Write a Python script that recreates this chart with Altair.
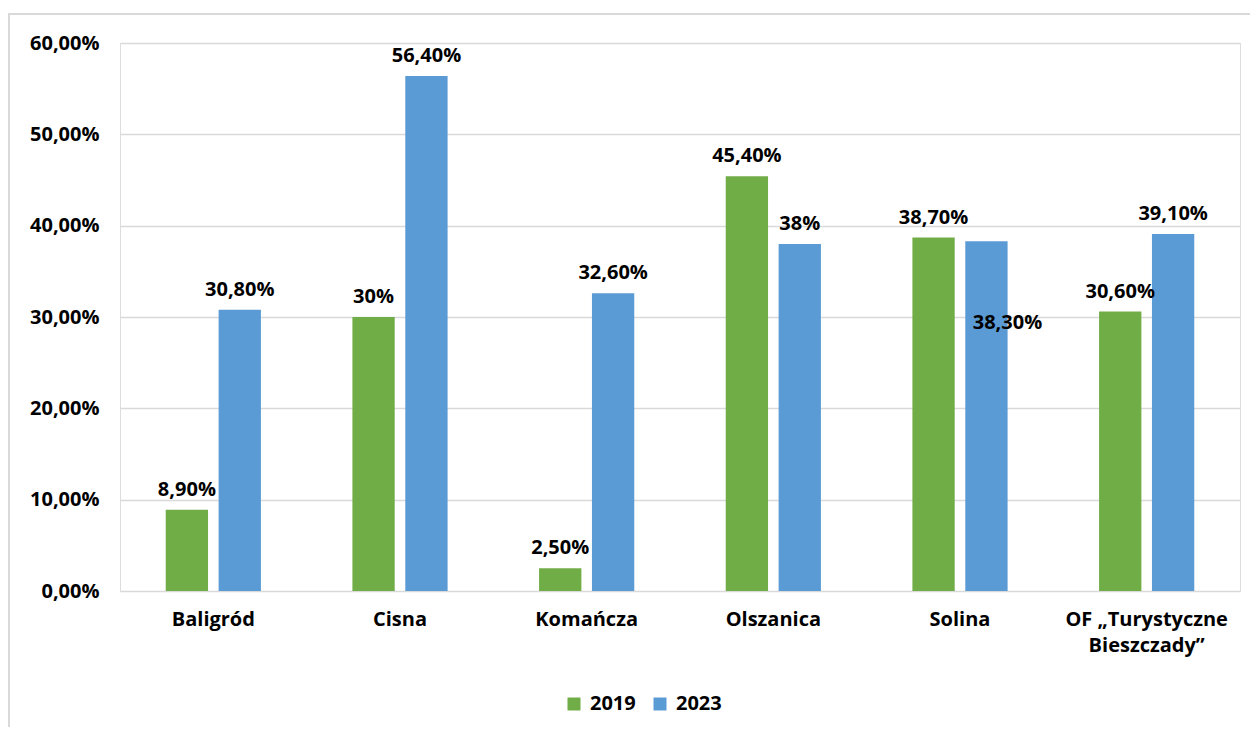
import altair as alt
import pandas as pd

categories = ["Baligród", "Cisna", "Komańcza", "Olszanica", "Solina", "OF „Turystyczne Bieszczady”"]
series = ["2019", "2023"]
values_2019 = [8.9, 30.0, 2.5, 45.4, 38.7, 30.6]
values_2023 = [30.8, 56.4, 32.6, 38.0, 38.3, 39.1]
y_ticks = [0, 10, 20, 30, 40, 50, 60]
colors = ["#70AD47", "#5B9BD5"]

FONT = "Open Sans"
FS = 20


def fmt(v):
    if float(v).is_integer():
        return f"{int(v)}%"
    return f"{v:.2f}".replace(".", ",") + "%"


rows = []
for s, vals in zip(series, [values_2019, values_2023]):
    for c, v in zip(categories, vals):
        rows.append({"kategoria": c, "rok": s, "wartosc": v, "etykieta": fmt(v)})
df = pd.DataFrame(rows)

x_enc = alt.X(
    "kategoria:N",
    sort=categories,
    scale=alt.Scale(paddingInner=0.49, paddingOuter=0.245),
    axis=alt.Axis(
        title=None,
        labelAngle=0,
        labelFont=FONT,
        labelFontSize=FS,
        labelFontWeight="bold",
        labelColor="#000000",
        labelPadding=18,
        labelBaseline="top",
        labelLineHeight=26,
        labelExpr="datum.label == 'OF „Turystyczne Bieszczady”' ? ['OF „Turystyczne', 'Bieszczady”'] : datum.label",
        ticks=False,
        domain=False,
        grid=False,
    ),
)
xoff = alt.XOffset("rok:N", sort=series, scale=alt.Scale(paddingInner=0.2, paddingOuter=0))
y_enc = alt.Y(
    "wartosc:Q",
    scale=alt.Scale(domain=[0, 60], nice=False),
    axis=alt.Axis(
        title=None,
        values=y_ticks,
        labelExpr="replace(format(datum.value, '.2f'), '.', ',') + '%'",
        labelFont=FONT,
        labelFontSize=FS,
        labelFontWeight="bold",
        labelColor="#000000",
        labelPadding=21,
        ticks=False,
        domain=False,
        grid=True,
        gridColor="#d9d9d9",
        gridWidth=1.5,
    ),
)
color_enc = alt.Color(
    "rok:N",
    sort=series,
    scale=alt.Scale(domain=series, range=colors),
    legend=alt.Legend(
        title=None,
        orient="none",
        direction="horizontal",
        legendX=444,
        legendY=651,
        symbolType="square",
        symbolSize=169,
        symbolStrokeWidth=0,
        labelFont=FONT,
        labelFontSize=FS,
        labelFontWeight="bold",
        labelColor="#000000",
        columnPadding=14,
        labelOffset=6,
    ),
)

base = alt.Chart(df)

bars = base.mark_bar().encode(x=x_enc, xOffset=xoff, y=y_enc, color=color_enc)

text_style = dict(font=FONT, fontSize=FS, fontWeight="bold", color="#000000", baseline="middle", align="center")

labels = base.transform_filter(
    "!(datum.kategoria == 'Solina' && datum.rok == '2023')"
).mark_text(dy=-20, **text_style).encode(
    x=alt.X("kategoria:N", sort=categories), xOffset=alt.XOffset("rok:N", sort=series), y="wartosc:Q", text="etykieta:N"
)

label_special = base.transform_filter(
    "datum.kategoria == 'Solina' && datum.rok == '2023'"
).mark_text(dx=21, dy=82, **text_style).encode(
    x=alt.X("kategoria:N", sort=categories), xOffset=alt.XOffset("rok:N", sort=series), y="wartosc:Q", text="etykieta:N"
)

border = alt.Chart(alt.Data(values=[{"a": 1}])).mark_rect(
    fillOpacity=0, stroke="#d9d9d9", strokeWidth=2
).encode(
    x=alt.value(-111), x2=alt.value(1160), y=alt.value(-29), y2=alt.value(720)
)

chart = alt.layer(border, bars, labels, label_special).properties(
    width=1120,
    height=548,
    padding={"left": 112, "top": 35, "right": 10, "bottom": 136},
    autosize=alt.AutoSizeParams(type="none"),
).configure_view(stroke=None).configure(background="#ffffff")

chart.save("out.html", embed_options={"renderer": "svg", "actions": False})
